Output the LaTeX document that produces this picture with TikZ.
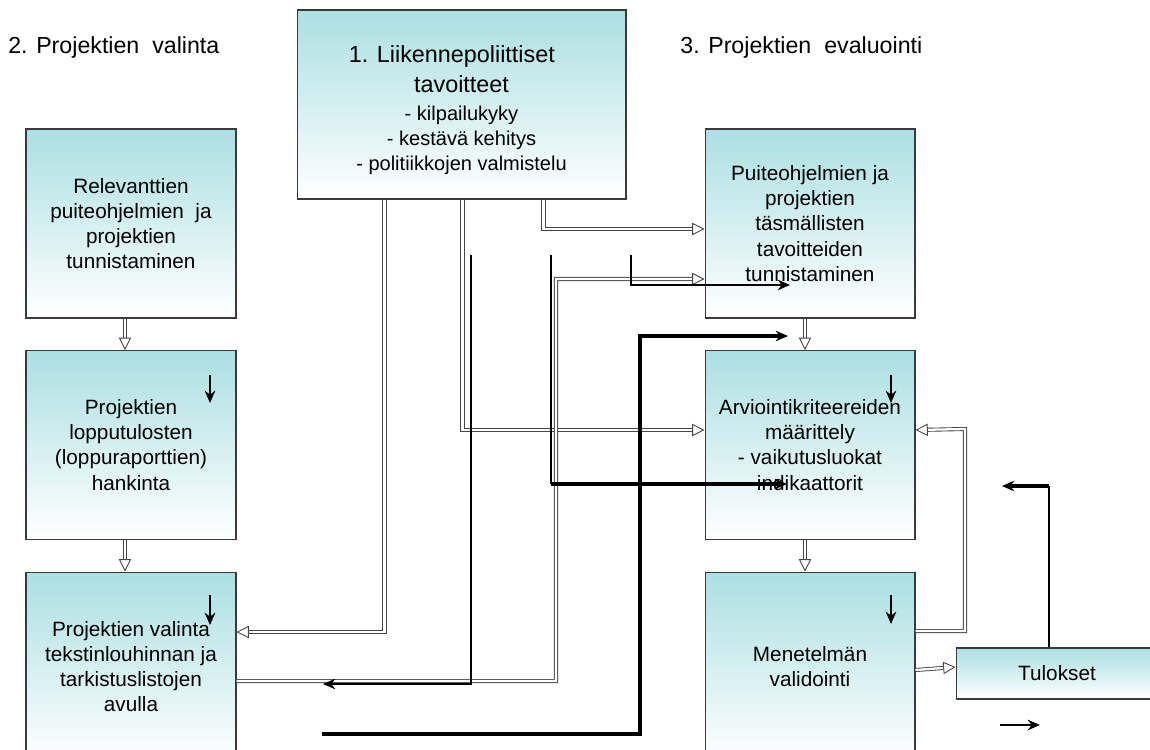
\documentclass[tikz,border=0pt]{standalone}
\usepackage{fontspec}
\setmainfont{Liberation Sans}
\usepackage{tikz}
\usetikzlibrary{arrows.meta, positioning, calc}
\definecolor{boxtop}{HTML}{ABDFE2}
\definecolor{boxline}{HTML}{3A3A3A}
\definecolor{pipegray}{HTML}{454545}

\begin{document}
\begin{tikzpicture}[x=0.02cm, y=-0.02cm, node distance=0.63cm, >=Stealth]
    \useasboundingbox (0,0) rectangle (1150,750);
    \clip (0,0) rectangle (1150,750);

    % Styles
    \tikzset{
      box/.style={draw=boxline, line width=0.6pt, top color=boxtop, bottom color=white, minimum width=4.2cm, minimum height=3.78cm, align=center, inner sep=2pt, font=\fontsize{11.8}{14.3}\selectfont},
      phase/.style={anchor=west, inner sep=0pt, font=\fontsize{13.2}{16}\selectfont},
      pipe/.style={draw=pipegray, double=white, line width=0.5pt, double distance=1.3pt, -{Triangle[open, length=7pt, width=7pt]}},
      wire/.style={draw=black, line width=1.1pt, -{Stealth[length=7pt, width=6pt]}},
      heavy/.style={wire, line width=2.2pt}
    }

    % Phase titles
    \node [phase] (phase2) at (8,48) {2. Projektien\ \ valinta};
    \node [phase] (phase3) at (680,48) {3. Projektien\ \ evaluointi};

    % Nodes
    \node [box, minimum width=6.58cm, font=\fontsize{11.4}{14.2}\selectfont] (tavoite) at (461.5,104.5) {\fontsize{13.3}{16}\selectfont\rule{0pt}{16pt}1. Liikennepoliittiset\kern11pt\\[3pt] \fontsize{13.3}{16}\selectfont tavoitteet\\[1.8pt] - kilpailukyky\\ - kestävä kehitys\\ - politiikkojen valmistelu};

    \node [box] (relev) at (131,223.5) {Relevanttien\\ puiteohjelmien\ \ ja\\ projektien\\ tunnistaminen};
    \node [box, below=of relev] (hankinta) {Projektien\\ lopputulosten\\ (loppuraporttien)\\ hankinta};
    \node [box, below=of hankinta] (valinta) {Projektien valinta\\ tekstinlouhinnan ja\\ tarkistuslistojen\\ avulla};

    \node [box] (tarkat) at (810,223.5) {Puiteohjelmien ja\\ projektien\\ täsmällisten\\ tavoitteiden\\ tunnistaminen};
    \node [box, below=of tarkat] (kriteerit) {Arviointikriteereiden\\ määrittely\\ - vaikutusluokat\\ indikaattorit};
    \node [box, below=of kriteerit] (validointi) {Menetelmän\\ validointi};

    \node [box, minimum width=4.04cm, minimum height=1.02cm] (tulokset) at (1057,673.5) {Tulokset};

    % Double paths
    \draw[pipe] ($(relev.south)+(-6,0)$) -- ($(hankinta.north)+(-6,0)$);
    \draw[pipe] ($(hankinta.south)+(-6,0)$) -- ($(valinta.north)+(-6,0)$);
    \draw[pipe] ($(tarkat.south)+(-5,0)$) -- ($(kriteerit.north)+(-5,0)$);
    \draw[pipe] ($(kriteerit.south)+(-5,0)$) -- ($(validointi.north)+(-5,0)$);
    \draw[pipe] ($(validointi.east)+(0,3.5)$) -- ($(tulokset.west)+(0,-6.5)$);
    \draw[pipe] ($(validointi.east)+(0,-35.5)$) -| (965,429) -- ($(kriteerit.east)+(0,-15)$);
    \draw[pipe] ($(tavoite.south west)+(88,0)$) |- ($(valinta.east)+(0,-34.5)$);
    \draw[pipe] ($(tavoite.south west)+(166,0)$) |- ($(kriteerit.west)+(0,-15)$);
    \draw[pipe] ($(tavoite.south west)+(247,0)$) |- ($(tarkat.west)+(0,5.5)$);
    \draw[pipe] ($(valinta.east)+(0,14.5)$) -| (556,279) -- ($(tarkat.west)+(0,55.5)$);

    % Black paths
    \coordinate (w1s) at (471,255);
    \coordinate (w1e) at (323,684);
    \coordinate (w2s) at (551,255);
    \coordinate (w2c) at (551,484);
    \coordinate (w2e) at (787,484);
    \coordinate (w3s) at (631,255);
    \coordinate (w3e) at (790,285);
    \coordinate (w4s) at (322,734);
    \coordinate (w4c) at (640,336);
    \coordinate (w4e) at (788,336);
    \coordinate (w5c) at (1049,486);
    \coordinate (w5e) at (1002,486);

    \draw[wire] (w1s) |- (w1e);
    \draw[wire, -] (w2s) -- (w2c);
    \draw[heavy] (w2c) -- (w2e);
    \draw[wire] (w3s) |- (w3e);
    \draw[heavy] (w4s) -| (w4c) -- (w4e);
    \draw[wire, -] (tulokset.north -| w5c) -- (w5c);
    \draw[heavy] (w5c) -- (w5e);

    % Loose arrows
    \coordinate (dn1a) at (210,375); \coordinate (dn1b) at (210,403);
    \coordinate (dn2a) at (210,595); \coordinate (dn2b) at (210,625);
    \coordinate (dn3a) at (891,375); \coordinate (dn3b) at (891,403);
    \coordinate (dn4a) at (891,595); \coordinate (dn4b) at (891,624);
    \coordinate (rta) at (1000,725); \coordinate (rtb) at (1040,725);
    \draw[wire] (dn1a) -- (dn1b);
    \draw[wire] (dn2a) -- (dn2b);
    \draw[wire] (dn3a) -- (dn3b);
    \draw[wire] (dn4a) -- (dn4b);
    \draw[wire] (rta) -- (rtb);
\end{tikzpicture}
\end{document}
